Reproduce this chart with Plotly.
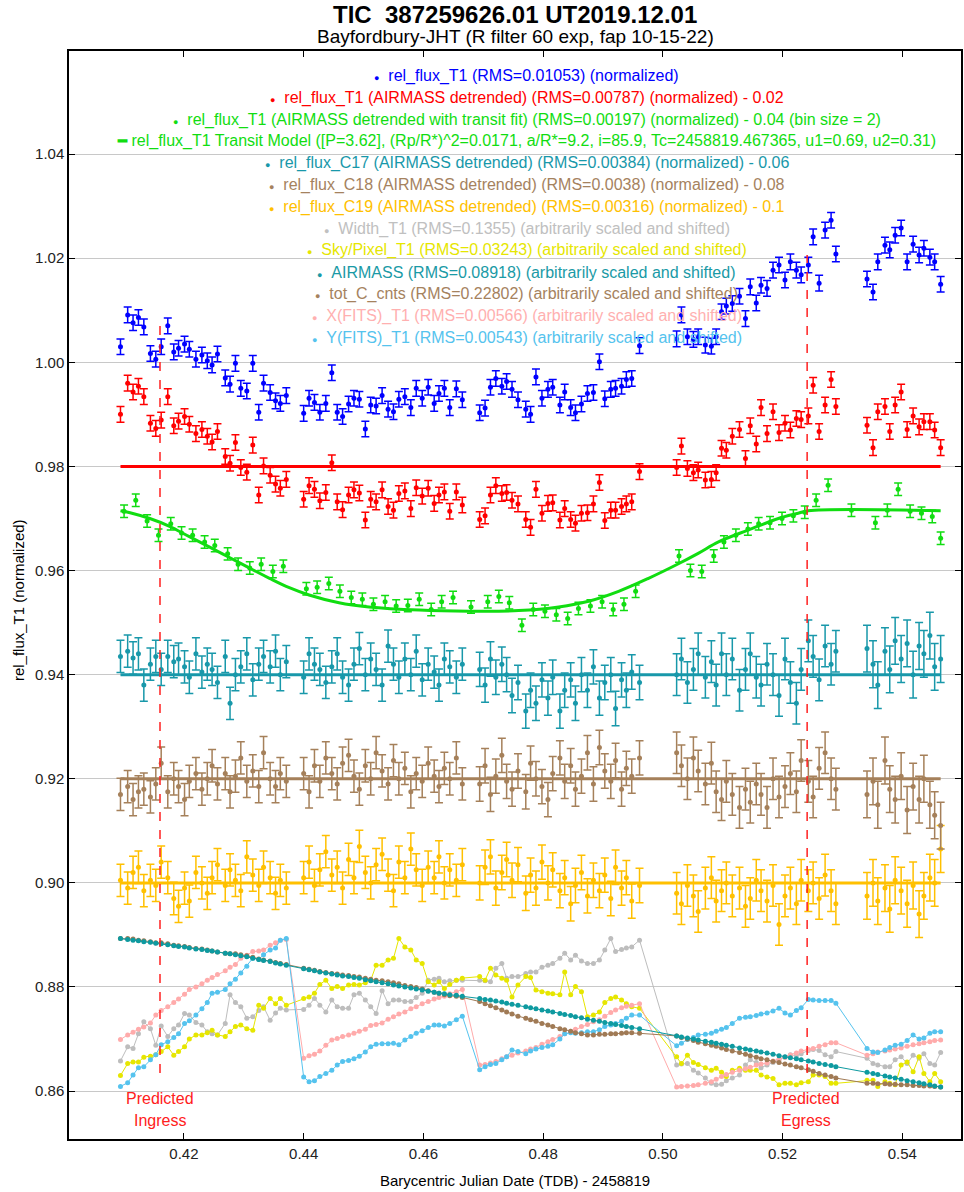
import plotly.graph_objects as go

# ---------------- data ----------------
t = [0.4094, 0.4106, 0.4115, 0.4124, 0.4133, 0.4144, 0.4153, 0.4162, 0.4173, 0.4183, 0.4191, 0.4201, 0.4209, 0.4220, 0.4230,
     0.4239, 0.4247, 0.4256, 0.4269, 0.4277, 0.4286, 0.4295, 0.4305, 0.4315, 0.4325, 0.4333, 0.4344, 0.4353, 0.4361, 0.4371,
     0.4400, 0.4409, 0.4418, 0.4427, 0.4437, 0.4447, 0.4456, 0.4465, 0.4475, 0.4484, 0.4493, 0.4503, 0.4512, 0.4521, 0.4531,
     0.4541, 0.4550, 0.4559, 0.4569, 0.4579, 0.4588, 0.4598, 0.4608, 0.4618, 0.4626, 0.4635, 0.4644, 0.4655, 0.4665,
     0.4694, 0.4703, 0.4712, 0.4721, 0.4731, 0.4739, 0.4748, 0.4758, 0.4771, 0.4779, 0.4788, 0.4798, 0.4808, 0.4816, 0.4828,
     0.4836, 0.4846, 0.4854, 0.4864, 0.4874, 0.4884, 0.4894, 0.4903, 0.4913, 0.4921, 0.4931, 0.4939, 0.4948, 0.4961,
     0.5023, 0.5031, 0.5041, 0.5051, 0.5059, 0.5071, 0.5081, 0.5089, 0.5098, 0.5106, 0.5116, 0.5128, 0.5138, 0.5146, 0.5156,
     0.5164, 0.5174, 0.5184, 0.5194, 0.5204, 0.5213, 0.5223, 0.5231, 0.5243, 0.5251, 0.5261, 0.5271, 0.5281, 0.5289,
     0.5341, 0.5351, 0.5359, 0.5371, 0.5379, 0.5388, 0.5398, 0.5408, 0.5418, 0.5428, 0.5436, 0.5446, 0.5454, 0.5464]

rel_flux_T1 = [1.0030, 1.0091, 1.0076, 1.0086, 1.0068, 1.0017, 1.0006, 1.0030, 1.0070, 1.0020, 1.0027, 1.0035, 1.0025, 1.0006, 1.0014,
               1.0003, 0.9995, 1.0016, 0.9970, 0.9958, 0.9998, 0.9950, 0.9945, 0.9998, 0.9904, 0.9960, 0.9942, 0.9926, 0.9921, 0.9936,
               0.9902, 0.9931, 0.9923, 0.9904, 0.9921, 0.9980, 0.9904, 0.9896, 0.9920, 0.9931, 0.9929, 0.9872, 0.9918, 0.9916, 0.9936,
               0.9910, 0.9905, 0.9929, 0.9934, 0.9913, 0.9950, 0.9931, 0.9952, 0.9921, 0.9940, 0.9950, 0.9913, 0.9949, 0.9928,
               0.9903, 0.9912, 0.9952, 0.9969, 0.9954, 0.9963, 0.9948, 0.9928, 0.9910, 0.9900, 0.9972, 0.9931, 0.9948, 0.9952, 0.9918,
               0.9943, 0.9913, 0.9903, 0.9920, 0.9940, 0.9942, 1.0001, 0.9930, 0.9948, 0.9950, 0.9954, 0.9967, 0.9969, 1.0032,
               1.0045, 1.0091, 1.0049, 1.0044, 1.0049, 1.0033, 1.0031, 1.0049, 1.0097, 1.0108, 1.0113, 1.0127, 1.0084, 1.0145, 1.0114,
               1.0148, 1.0142, 1.0177, 1.0187, 1.0158, 1.0193, 1.0177, 1.0168, 1.0187, 1.0241, 1.0152, 1.0254, 1.0273, 1.0208,
               1.0160, 1.0135, 1.0193, 1.0225, 1.0216, 1.0244, 1.0258, 1.0193, 1.0227, 1.0206, 1.0219, 1.0202, 1.0193, 1.0150]

rel_flux_T1_detr = [0.9900, 0.9960, 0.9943, 0.9954, 0.9934, 0.9883, 0.9873, 0.9889, 0.9934, 0.9878, 0.9887, 0.9896, 0.9881, 0.9863, 0.9871,
                    0.9858, 0.9847, 0.9867, 0.9819, 0.9806, 0.9846, 0.9798, 0.9789, 0.9841, 0.9745, 0.9801, 0.9783, 0.9766, 0.9758, 0.9775,
                    0.9737, 0.9763, 0.9756, 0.9734, 0.9750, 0.9807, 0.9732, 0.9717, 0.9745, 0.9755, 0.9749, 0.9697, 0.9737, 0.9732, 0.9755,
                    0.9723, 0.9716, 0.9748, 0.9753, 0.9719, 0.9759, 0.9743, 0.9758, 0.9729, 0.9745, 0.9751, 0.9714, 0.9751, 0.9726,
                    0.9698, 0.9705, 0.9745, 0.9763, 0.9748, 0.9750, 0.9735, 0.9728, 0.9698, 0.9683, 0.9756, 0.9710, 0.9729, 0.9730, 0.9697,
                    0.9719, 0.9698, 0.9691, 0.9710, 0.9711, 0.9728, 0.9769, 0.9696, 0.9716, 0.9716, 0.9723, 0.9728, 0.9732, 0.9790,
                    0.9798, 0.9839, 0.9796, 0.9788, 0.9793, 0.9774, 0.9775, 0.9788, 0.9835, 0.9831, 0.9858, 0.9871, 0.9815, 0.9878, 0.9843,
                    0.9913, 0.9863, 0.9905, 0.9865, 0.9883, 0.9870, 0.9892, 0.9890, 0.9897, 0.9956, 0.9867, 0.9918, 0.9967, 0.9915,
                    0.9879, 0.9836, 0.9905, 0.9915, 0.9867, 0.9918, 0.9943, 0.9871, 0.9897, 0.9876, 0.9886, 0.9886, 0.9870, 0.9836]
detr_baseline = [0.98, 0.98]

t_bin = [0.4100, 0.41195, 0.41385, 0.41575, 0.4178, 0.4196, 0.42145, 0.42345, 0.42515, 0.4273, 0.42905, 0.4310, 0.4329, 0.43485,
         0.4366, 0.44045, 0.44225, 0.4442, 0.44605, 0.44795, 0.4498, 0.45165, 0.4536, 0.45545, 0.4574, 0.4593, 0.4613, 0.46305,
         0.46495, 0.46795, 0.47075, 0.4726, 0.47435, 0.47645, 0.47835, 0.4803, 0.4822, 0.4841, 0.4859, 0.4879, 0.48985, 0.4917,
         0.4935, 0.49545, 0.5027, 0.5046, 0.5065, 0.5085, 0.5102, 0.5122, 0.5142, 0.5160, 0.5179, 0.5199, 0.5218, 0.5237, 0.5256,
         0.5276, 0.5315, 0.5355, 0.5375, 0.5393, 0.5413, 0.5432, 0.5450, 0.5464]
rel_flux_T1_fit = [0.9714, 0.9735, 0.9695, 0.9668, 0.9690, 0.9672, 0.9668, 0.9655, 0.9648, 0.9632, 0.9612, 0.9605, 0.9612, 0.9598,
                   0.9608, 0.9565, 0.9568, 0.9575, 0.9560, 0.9548, 0.9545, 0.9535, 0.9540, 0.9532, 0.9533, 0.9545, 0.9525, 0.9540,
                   0.9548, 0.9530, 0.9540, 0.9550, 0.9538, 0.9495, 0.9525, 0.9522, 0.9515, 0.9508, 0.9527, 0.9532, 0.9540, 0.9525,
                   0.9535, 0.9560, 0.9628, 0.9600, 0.9598, 0.9628, 0.9655, 0.9668, 0.9680, 0.9690, 0.9692, 0.9700, 0.9705, 0.9712,
                   0.9735, 0.9764, 0.9716, 0.9692, 0.9716, 0.9756, 0.9714, 0.9710, 0.9704, 0.9662]

t_model = [0.4094, 0.4110, 0.4143, 0.4176, 0.4209, 0.4243, 0.4276, 0.4309, 0.4343, 0.4376, 0.4409, 0.4459, 0.4509, 0.4593,
           0.4676, 0.4759, 0.4826, 0.4876, 0.4926, 0.4976, 0.5026, 0.5059, 0.5093, 0.5143, 0.5193, 0.5226, 0.5243, 0.5464]
transit_model = [0.9715, 0.9711, 0.9700, 0.9685, 0.9665, 0.9645, 0.9625, 0.9605, 0.9585, 0.9567, 0.9553, 0.9538, 0.9530, 0.9524,
                 0.9522, 0.9523, 0.9530, 0.9541, 0.9560, 0.9585, 0.9613, 0.9633, 0.9655, 0.9678, 0.9700, 0.9710, 0.9715, 0.9715]

rel_flux_C17 = [0.9435, 0.9445, 0.9432, 0.9440, 0.9380, 0.9420, 0.9435, 0.9410, 0.9435, 0.9425, 0.9430, 0.9415, 0.9395, 0.9440, 0.9405,
                0.9420, 0.9410, 0.9385, 0.9435, 0.9345, 0.9400, 0.9415, 0.9440, 0.9390, 0.9420, 0.9435, 0.9415, 0.9445, 0.9400, 0.9425,
                0.9395, 0.9440, 0.9420, 0.9410, 0.9385, 0.9415, 0.9440, 0.9395, 0.9380, 0.9420, 0.9450, 0.9400, 0.9430, 0.9410, 0.9380,
                0.9455, 0.9420, 0.9395, 0.9430, 0.9400, 0.9445, 0.9390, 0.9420, 0.9405, 0.9380, 0.9430, 0.9415, 0.9395, 0.9420,
                0.9410, 0.9380, 0.9430, 0.9395, 0.9420, 0.9400, 0.9360, 0.9385, 0.9330, 0.9370, 0.9345, 0.9390, 0.9355, 0.9395, 0.9330,
                0.9370, 0.9390, 0.9345, 0.9400, 0.9370, 0.9415, 0.9355, 0.9385, 0.9400, 0.9335, 0.9390, 0.9370, 0.9405, 0.9385,
                0.9400, 0.9430, 0.9385, 0.9410, 0.9440, 0.9395, 0.9425, 0.9380, 0.9440, 0.9400, 0.9430, 0.9370, 0.9410, 0.9440, 0.9395,
                0.9380, 0.9420, 0.9400, 0.9360, 0.9430, 0.9385, 0.9345, 0.9410, 0.9465, 0.9435, 0.9390, 0.9455, 0.9420, 0.9445,
                0.9450, 0.9420, 0.9380, 0.9445, 0.9410, 0.9465, 0.9430, 0.9460, 0.9400, 0.9455, 0.9440, 0.9475, 0.9415, 0.9430]
C17_baseline = [0.94, 0.94]

rel_flux_C18 = [0.9170, 0.9185, 0.9160, 0.9175, 0.9180, 0.9165, 0.9190, 0.9230, 0.9175, 0.9200, 0.9185, 0.9160, 0.9195, 0.9210, 0.9180,
                0.9200, 0.9225, 0.9190, 0.9210, 0.9175, 0.9205, 0.9240, 0.9195, 0.9215, 0.9185, 0.9250, 0.9200, 0.9185, 0.9210, 0.9195,
                0.9210, 0.9175, 0.9225, 0.9195, 0.9240, 0.9210, 0.9190, 0.9230, 0.9245, 0.9205, 0.9180, 0.9225, 0.9200, 0.9250, 0.9215,
                0.9190, 0.9235, 0.9200, 0.9220, 0.9175, 0.9210, 0.9195, 0.9230, 0.9205, 0.9185, 0.9220, 0.9200, 0.9240, 0.9190,
                0.9190, 0.9225, 0.9170, 0.9205, 0.9245, 0.9195, 0.9180, 0.9215, 0.9175, 0.9230, 0.9200, 0.9185, 0.9160, 0.9210, 0.9240,
                0.9195, 0.9225, 0.9180, 0.9205, 0.9250, 0.9190, 0.9260, 0.9215, 0.9195, 0.9235, 0.9180, 0.9220, 0.9205, 0.9240,
                0.9250, 0.9225, 0.9200, 0.9240, 0.9215, 0.9190, 0.9230, 0.9175, 0.9160, 0.9195, 0.9170, 0.9145, 0.9180, 0.9155, 0.9190,
                0.9170, 0.9145, 0.9200, 0.9165, 0.9185, 0.9210, 0.9175, 0.9235, 0.9195, 0.9165, 0.9220, 0.9250, 0.9200, 0.9180,
                0.9170, 0.9195, 0.9150, 0.9235, 0.9180, 0.9160, 0.9205, 0.9140, 0.9185, 0.9160, 0.9200, 0.9150, 0.9130, 0.9110]
C18_baseline = [0.92, 0.92]

rel_flux_C19 = [0.9005, 0.8990, 0.9020, 0.9030, 0.8985, 0.9005, 0.8995, 0.9040, 0.9010, 0.8970, 0.8955, 0.8990, 0.8965, 0.9020, 0.9000,
                0.8980, 0.9010, 0.9035, 0.8995, 0.9025, 0.9005, 0.8985, 0.9050, 0.9015, 0.8995, 0.9030, 0.9010, 0.8980, 0.9005, 0.8990,
                0.9010, 0.9040, 0.8995, 0.9025, 0.9060, 0.9015, 0.9030, 0.8990, 0.9045, 0.9010, 0.9070, 0.9020, 0.9000, 0.9035, 0.9055,
                0.9015, 0.8985, 0.9040, 0.9010, 0.9065, 0.9025, 0.8995, 0.9030, 0.9010, 0.9050, 0.9000, 0.9025, 0.9005, 0.9035,
                0.9000, 0.9030, 0.9050, 0.8990, 0.9020, 0.9045, 0.9005, 0.9035, 0.8980, 0.9015, 0.8990, 0.9040, 0.9000, 0.9025, 0.8985,
                0.9010, 0.8960, 0.8995, 0.9020, 0.8975, 0.9005, 0.8985, 0.9015, 0.8970, 0.9030, 0.8990, 0.9010, 0.8965, 0.8995,
                0.8980, 0.8960, 0.8995, 0.8975, 0.8945, 0.8990, 0.9010, 0.8965, 0.8985, 0.9000, 0.8975, 0.8990, 0.8955, 0.8970, 0.9005,
                0.8985, 0.8965, 0.8995, 0.8920, 0.8975, 0.8990, 0.8960, 0.9005, 0.8985, 0.9000, 0.8970, 0.9015, 0.8985, 0.8960,
                0.8975, 0.9000, 0.8965, 0.8990, 0.8950, 0.9005, 0.8985, 0.8960, 0.8995, 0.8940, 0.8975, 0.9010, 0.9000, 0.9065]
C19_baseline = [0.90, 0.90]

# comparison-star error bar half-lengths (grow toward the end of the night)
comp_err = [0.0031] * 59 + [0.0033] * 29 + [0.0040] * 29 + [0.0045] * 14

width_T1 = [0.8658, 0.8685, 0.8682, 0.8710, 0.8733, 0.8720, 0.8688, 0.8725, 0.8705, 0.8720, 0.8727, 0.8749, 0.8746, 0.8732, 0.8727,
            0.8714, 0.8710, 0.8708, 0.8730, 0.8785, 0.8770, 0.8762, 0.8740, 0.8743, 0.8755, 0.8762, 0.8736, 0.8750, 0.8759, 0.8756,
            0.8757, 0.8765, 0.8778, 0.8765, 0.8752, 0.8775, 0.8762, 0.8759, 0.8759, 0.8785, 0.8788, 0.8775, 0.8762, 0.8749, 0.8793,
            0.8768, 0.8775, 0.8775, 0.8772, 0.8772, 0.8780, 0.8788, 0.8813, 0.8815, 0.8817, 0.8810, 0.8812, 0.8813, 0.8813,
            0.8813, 0.8812, 0.8810, 0.8836, 0.8845, 0.8817, 0.8820, 0.8820, 0.8826, 0.8829, 0.8829, 0.8838, 0.8842, 0.8845, 0.8855,
            0.8865, 0.8852, 0.8861, 0.8850, 0.8845, 0.8845, 0.8852, 0.8871, 0.8893, 0.8868, 0.8872, 0.8875, 0.8877, 0.8890,
            0.8650, 0.8652, 0.8653, 0.8640, 0.8635, 0.8625, 0.8615, 0.8612, 0.8613, 0.8620, 0.8625, 0.8631, 0.8650, 0.8660, 0.8655,
            0.8645, 0.8650, 0.8655, 0.8660, 0.8665, 0.8670, 0.8668, 0.8672, 0.8678, 0.8680, 0.8678, 0.8670, 0.8666, 0.8676,
            0.8663, 0.8653, 0.8650, 0.8647, 0.8647, 0.8660, 0.8666, 0.8653, 0.8669, 0.8663, 0.8672, 0.8653, 0.8650, 0.8674]

sky_T1 = [0.8630, 0.8653, 0.8656, 0.8656, 0.8665, 0.8667, 0.8670, 0.8676, 0.8685, 0.8669, 0.8676, 0.8685, 0.8700, 0.8708, 0.8708,
          0.8712, 0.8717, 0.8708, 0.8705, 0.8714, 0.8724, 0.8727, 0.8720, 0.8717, 0.8765, 0.8759, 0.8778, 0.8768, 0.8778, 0.8765,
          0.8778, 0.8781, 0.8788, 0.8805, 0.8813, 0.8797, 0.8801, 0.8797, 0.8804, 0.8805, 0.8804, 0.8808, 0.8813, 0.8842, 0.8842,
          0.8852, 0.8855, 0.8893, 0.8877, 0.8871, 0.8852, 0.8845, 0.8810, 0.8804, 0.8810, 0.8797, 0.8805, 0.8813, 0.8817,
          0.8820, 0.8813, 0.8836, 0.8823, 0.8817, 0.8813, 0.8781, 0.8804, 0.8820, 0.8818, 0.8794, 0.8791, 0.8788, 0.8787, 0.8785,
          0.8829, 0.8785, 0.8801, 0.8791, 0.8743, 0.8746, 0.8752, 0.8770, 0.8778, 0.8781, 0.8775, 0.8768, 0.8762, 0.8759,
          0.8666, 0.8653, 0.8669, 0.8655, 0.8651, 0.8645, 0.8640, 0.8644, 0.8636, 0.8628, 0.8640, 0.8644, 0.8640, 0.8640, 0.8640,
          0.8631, 0.8627, 0.8624, 0.8612, 0.8615, 0.8615, 0.8612, 0.8616, 0.8618, 0.8631, 0.8631, 0.8628, 0.8615, 0.8615,
          0.8621, 0.8621, 0.8609, 0.8618, 0.8615, 0.8612, 0.8650, 0.8656, 0.8637, 0.8666, 0.8634, 0.8618, 0.8634, 0.8618]

airmass = [0.8893, 0.8891, 0.8890, 0.8889, 0.8887, 0.8886, 0.8884, 0.8883, 0.8881, 0.8879, 0.8878, 0.8877, 0.8875, 0.8873, 0.8872,
           0.8870, 0.8869, 0.8867, 0.8865, 0.8864, 0.8862, 0.8860, 0.8858, 0.8855, 0.8853, 0.8851, 0.8849, 0.8846, 0.8844, 0.8842,
           0.8835, 0.8833, 0.8831, 0.8829, 0.8827, 0.8825, 0.8823, 0.8821, 0.8820, 0.8818, 0.8817, 0.8814, 0.8812, 0.8810, 0.8808,
           0.8806, 0.8804, 0.8802, 0.8800, 0.8798, 0.8796, 0.8794, 0.8792, 0.8790, 0.8788, 0.8787, 0.8785, 0.8784, 0.8782,
           0.8778, 0.8776, 0.8775, 0.8773, 0.8771, 0.8769, 0.8767, 0.8765, 0.8762, 0.8760, 0.8758, 0.8756, 0.8754, 0.8752, 0.8749,
           0.8747, 0.8745, 0.8743, 0.8741, 0.8738, 0.8736, 0.8734, 0.8732, 0.8730, 0.8728, 0.8726, 0.8724, 0.8722, 0.8720,
           0.8706, 0.8704, 0.8702, 0.8700, 0.8698, 0.8696, 0.8694, 0.8692, 0.8690, 0.8688, 0.8686, 0.8683, 0.8681, 0.8679, 0.8677,
           0.8675, 0.8673, 0.8671, 0.8668, 0.8666, 0.8664, 0.8662, 0.8660, 0.8658, 0.8656, 0.8653, 0.8651, 0.8649, 0.8647,
           0.8636, 0.8634, 0.8632, 0.8629, 0.8627, 0.8625, 0.8623, 0.8620, 0.8618, 0.8616, 0.8614, 0.8612, 0.8610, 0.8608]

tot_C_cnts = [0.8893, 0.8893, 0.8892, 0.8890, 0.8889, 0.8887, 0.8885, 0.8885, 0.8883, 0.8880, 0.8879, 0.8878, 0.8876, 0.8874, 0.8873,
              0.8871, 0.8869, 0.8867, 0.8865, 0.8864, 0.8864, 0.8862, 0.8860, 0.8857, 0.8854, 0.8852, 0.8850, 0.8847, 0.8845, 0.8843,
              0.8836, 0.8834, 0.8832, 0.8830, 0.8828, 0.8826, 0.8825, 0.8823, 0.8822, 0.8820, 0.8819, 0.8817, 0.8815, 0.8813, 0.8812,
              0.8810, 0.8808, 0.8806, 0.8803, 0.8801, 0.8799, 0.8796, 0.8793, 0.8790, 0.8788, 0.8785, 0.8783, 0.8782, 0.8780,
              0.8772, 0.8768, 0.8764, 0.8760, 0.8756, 0.8752, 0.8748, 0.8744, 0.8740, 0.8737, 0.8734, 0.8730, 0.8727, 0.8724, 0.8720,
              0.8718, 0.8715, 0.8712, 0.8710, 0.8708, 0.8708, 0.8709, 0.8709, 0.8710, 0.8710, 0.8711, 0.8712, 0.8712, 0.8711,
              0.8706, 0.8703, 0.8700, 0.8697, 0.8694, 0.8691, 0.8688, 0.8686, 0.8683, 0.8680, 0.8677, 0.8674, 0.8671, 0.8668, 0.8665,
              0.8662, 0.8660, 0.8657, 0.8655, 0.8652, 0.8650, 0.8647, 0.8645, 0.8641, 0.8638, 0.8634, 0.8631, 0.8628, 0.8625,
              0.8615, 0.8615, 0.8614, 0.8614, 0.8613, 0.8613, 0.8612, 0.8612, 0.8611, 0.8611, 0.8610, 0.8610, 0.8609, 0.8608]

x_fits = [0.8699, 0.8708, 0.8713, 0.8719, 0.8723, 0.8731, 0.8746, 0.8755, 0.8762, 0.8770, 0.8777, 0.8786, 0.8795, 0.8800, 0.8806,
          0.8813, 0.8818, 0.8824, 0.8831, 0.8838, 0.8843, 0.8855, 0.8861, 0.8868, 0.8869, 0.8871, 0.8880, 0.8885, 0.8890, 0.8891,
          0.8663, 0.8668, 0.8671, 0.8677, 0.8688, 0.8698, 0.8701, 0.8705, 0.8708, 0.8711, 0.8715, 0.8719, 0.8726, 0.8728, 0.8731,
          0.8738, 0.8743, 0.8748, 0.8752, 0.8758, 0.8762, 0.8768, 0.8772, 0.8777, 0.8780, 0.8782, 0.8787, 0.8791, 0.8795,
          0.8650, 0.8651, 0.8654, 0.8657, 0.8662, 0.8666, 0.8669, 0.8673, 0.8677, 0.8681, 0.8684, 0.8690, 0.8695, 0.8699, 0.8705,
          0.8710, 0.8715, 0.8719, 0.8724, 0.8728, 0.8733, 0.8737, 0.8744, 0.8751, 0.8756, 0.8760, 0.8763, 0.8765, 0.8768,
          0.8608, 0.8609, 0.8610, 0.8611, 0.8612, 0.8615, 0.8618, 0.8623, 0.8628, 0.8632, 0.8636, 0.8640, 0.8643, 0.8646, 0.8650,
          0.8652, 0.8654, 0.8658, 0.8661, 0.8665, 0.8669, 0.8673, 0.8677, 0.8680, 0.8682, 0.8686, 0.8689, 0.8693, 0.8693,
          0.8669, 0.8672, 0.8675, 0.8677, 0.8679, 0.8681, 0.8683, 0.8686, 0.8689, 0.8691, 0.8693, 0.8695, 0.8697, 0.8698]

y_fits = [0.8609, 0.8616, 0.8631, 0.8645, 0.8647, 0.8660, 0.8670, 0.8689, 0.8695, 0.8703, 0.8710, 0.8730, 0.8735, 0.8746, 0.8758,
          0.8770, 0.8788, 0.8790, 0.8795, 0.8806, 0.8815, 0.8827, 0.8840, 0.8855, 0.8853, 0.8862, 0.8871, 0.8875, 0.8890, 0.8893,
          0.8627, 0.8618, 0.8620, 0.8628, 0.8634, 0.8640, 0.8650, 0.8657, 0.8659, 0.8662, 0.8667, 0.8675, 0.8685, 0.8690, 0.8691,
          0.8691, 0.8692, 0.8689, 0.8698, 0.8705, 0.8711, 0.8716, 0.8722, 0.8727, 0.8727, 0.8725, 0.8730, 0.8737, 0.8744,
          0.8641, 0.8647, 0.8651, 0.8653, 0.8660, 0.8666, 0.8679, 0.8676, 0.8672, 0.8677, 0.8681, 0.8684, 0.8686, 0.8689, 0.8700,
          0.8710, 0.8712, 0.8711, 0.8712, 0.8714, 0.8714, 0.8718, 0.8724, 0.8727, 0.8730, 0.8734, 0.8740, 0.8746, 0.8746,
          0.8687, 0.8692, 0.8699, 0.8703, 0.8708, 0.8709, 0.8711, 0.8715, 0.8719, 0.8722, 0.8730, 0.8740, 0.8742, 0.8743, 0.8745,
          0.8748, 0.8750, 0.8754, 0.8759, 0.8750, 0.8746, 0.8755, 0.8760, 0.8776, 0.8775, 0.8774, 0.8774, 0.8774, 0.8769,
          0.8682, 0.8675, 0.8674, 0.8679, 0.8684, 0.8688, 0.8690, 0.8697, 0.8708, 0.8700, 0.8702, 0.8711, 0.8714, 0.8714]

predicted_ingress = 0.4160
predicted_egress = 0.5241

legend_lines = [
    ("dot", "rel_flux_T1 (RMS=0.01053) (normalized)", "#0000ff"),
    ("dot", "rel_flux_T1 (AIRMASS detrended) (RMS=0.00787) (normalized) - 0.02", "#ff0000"),
    ("dot", "rel_flux_T1 (AIRMASS detrended with transit fit) (RMS=0.00197) (normalized) - 0.04 (bin size = 2)", "#11dd11"),
    ("line", "rel_flux_T1 Transit Model ([P=3.62], (Rp/R*)^2=0.0171, a/R*=9.2, i=85.9, Tc=2458819.467365, u1=0.69, u2=0.31)", "#11dd11"),
    ("dot", "rel_flux_C17 (AIRMASS detrended) (RMS=0.00384) (normalized) - 0.06", "#1898aa"),
    ("dot", "rel_flux_C18 (AIRMASS detrended) (RMS=0.0038) (normalized) - 0.08", "#a5825e"),
    ("dot", "rel_flux_C19 (AIRMASS detrended) (RMS=0.00316) (normalized) - 0.1", "#ffc000"),
    ("dot", "Width_T1 (RMS=0.1355) (arbitrarily scaled and shifted)", "#c0c0c0"),
    ("dot", "Sky/Pixel_T1 (RMS=0.03243) (arbitrarily scaled and shifted)", "#e6e600"),
    ("dot", "AIRMASS (RMS=0.08918) (arbitrarily scaled and shifted)", "#1a9aa6"),
    ("dot", "tot_C_cnts (RMS=0.22802) (arbitrarily scaled and shifted)", "#a5825e"),
    ("dot", "X(FITS)_T1 (RMS=0.00566) (arbitrarily scaled and shifted)", "#ffb0b0"),
    ("dot", "Y(FITS)_T1 (RMS=0.00543) (arbitrarily scaled and shifted)", "#55c3ee"),
]

# ---------------- layout constants ----------------
W, H = 964, 1192
L, R, T, B = 69, 1, 51, 53
XR = [0.4008, 0.5498]
YR = [0.8508, 1.0598]
FONT = "Liberation Sans, Arial, sans-serif"


def px_to_paper(px, py):
    return (px - L) / (W - L - R), 1 - (py - T) / (H - T - B)


fig = go.Figure()


def line_series(y, color):
    fig.add_trace(go.Scatter(x=t, y=y, mode="lines+markers",
                             line=dict(color=color, width=1),
                             marker=dict(color=color, size=5),
                             showlegend=False, hoverinfo="skip"))


line_series(width_T1, "#bdbdbd")
line_series(sky_T1, "#e6e600")
line_series(x_fits, "#ffabab")
line_series(y_fits, "#55c3ee")
line_series(tot_C_cnts, "#a07a55")
line_series(airmass, "#0e9aa0")


def err_series(x, y, color, err, size=5):
    if isinstance(err, list):
        ey = dict(type="data", array=err, color=color, thickness=1.5, width=4)
    else:
        ey = dict(type="constant", value=err, color=color, thickness=1.5, width=4)
    fig.add_trace(go.Scatter(x=x, y=y, mode="markers",
                             marker=dict(color=color, size=size),
                             error_y=ey, showlegend=False, hoverinfo="skip"))


def baseline(y, color):
    fig.add_trace(go.Scatter(x=[t[0], t[-1]], y=y, mode="lines",
                             line=dict(color=color, width=3), showlegend=False, hoverinfo="skip"))


err_series(t, rel_flux_C19, "#ffc000", comp_err)
baseline(C19_baseline, "#ffc000")
err_series(t, rel_flux_C18, "#a5805a", comp_err)
baseline(C18_baseline, "#a5805a")
err_series(t, rel_flux_C17, "#1898aa", comp_err)
baseline(C17_baseline, "#1898aa")

err_series(t_bin, rel_flux_T1_fit, "#11dd11", 0.0012)
fig.add_trace(go.Scatter(x=t_model, y=transit_model, mode="lines", line=dict(color="#11dd11", width=3, shape="spline"),
                         showlegend=False, hoverinfo="skip"))

err_series(t, rel_flux_T1_detr, "#ff0000", 0.0015)
baseline(detr_baseline, "#ff0000")
err_series(t, rel_flux_T1, "#0000ff", 0.0015)

# predicted ingress / egress
fig.add_shape(type="line", x0=predicted_ingress, x1=predicted_ingress, y0=0.8635, y1=1.0087,
              line=dict(color="#ff2020", width=1.5, dash="dash"))
fig.add_shape(type="line", x0=predicted_egress, x1=predicted_egress, y0=0.8635, y1=1.0206,
              line=dict(color="#ff2020", width=1.5, dash="dash"))

annotations = []
for i, (kind, txt, col) in enumerate(legend_lines):
    py = 76 + i * 21.8
    xp, yp = px_to_paper(528, py)
    if kind == "dot":
        sym = "<span style='font-size:9px'>●</span>&nbsp;&nbsp;"
    else:
        sym = "<span style='font-size:15px'><b>━</b></span>&nbsp;"
    annotations.append(dict(x=xp, y=yp, xref="paper", yref="paper", xanchor="center", yanchor="middle",
                            text=sym + txt, showarrow=False, font=dict(family=FONT, size=16, color=col)))

for xpx, word in [(160, "Ingress"), (808, "Egress")]:
    for ypx, w in [(1098, "Predicted"), (1120, word)]:
        xp, yp = px_to_paper(xpx, ypx)
        annotations.append(dict(x=xp, y=yp, xref="paper", yref="paper", xanchor="center", yanchor="middle",
                                text=w, showarrow=False, font=dict(family=FONT, size=16, color="#ff2020")))

xp, yp = px_to_paper(516, 14)
annotations.append(dict(x=xp, y=yp, xref="paper", yref="paper", xanchor="center", yanchor="middle",
                        text="<b>TIC  387259626.01 UT2019.12.01</b>", showarrow=False,
                        font=dict(family=FONT, size=24, color="#000000")))
xp, yp = px_to_paper(516, 36)
annotations.append(dict(x=xp, y=yp, xref="paper", yref="paper", xanchor="center", yanchor="middle",
                        text="Bayfordbury-JHT (R filter 60 exp, fap 10-15-22)", showarrow=False,
                        font=dict(family=FONT, size=19, color="#000000")))
xp, yp = px_to_paper(516, 1180)
annotations.append(dict(x=xp, y=yp, xref="paper", yref="paper", xanchor="center", yanchor="middle",
                        text="Barycentric Julian Date (TDB) - 2458819", showarrow=False,
                        font=dict(family=FONT, size=15, color="#000000")))
xp, yp = px_to_paper(18, 600)
annotations.append(dict(x=xp, y=yp, xref="paper", yref="paper", xanchor="center", yanchor="middle",
                        text="rel_flux_T1 (normalized)", showarrow=False, textangle=-90,
                        font=dict(family=FONT, size=15, color="#000000")))

fig.update_layout(
    width=W, height=H,
    margin=dict(l=L, r=R, t=T, b=B),
    paper_bgcolor="white", plot_bgcolor="white",
    showlegend=False,
    annotations=annotations,
    font=dict(family=FONT, size=15, color="#000000"),
)
fig.update_xaxes(range=XR, dtick=0.02, tick0=0.40, tickformat=".2f", showgrid=False, zeroline=False,
                 showline=True, linecolor="black", linewidth=1.5, mirror="ticks",
                 ticks="inside", ticklen=6, tickcolor="black", tickfont=dict(family=FONT, size=15, color="#222"))
fig.update_yaxes(range=YR, dtick=0.02, tick0=0.86, tickformat=".2f", showgrid=True, gridcolor="#c8c8c8",
                 gridwidth=1, zeroline=False,
                 showline=True, linecolor="black", linewidth=1.5, mirror="ticks",
                 ticks="inside", ticklen=6, tickcolor="black", tickfont=dict(family=FONT, size=15, color="#222"))

fig.write_html("out.html")
